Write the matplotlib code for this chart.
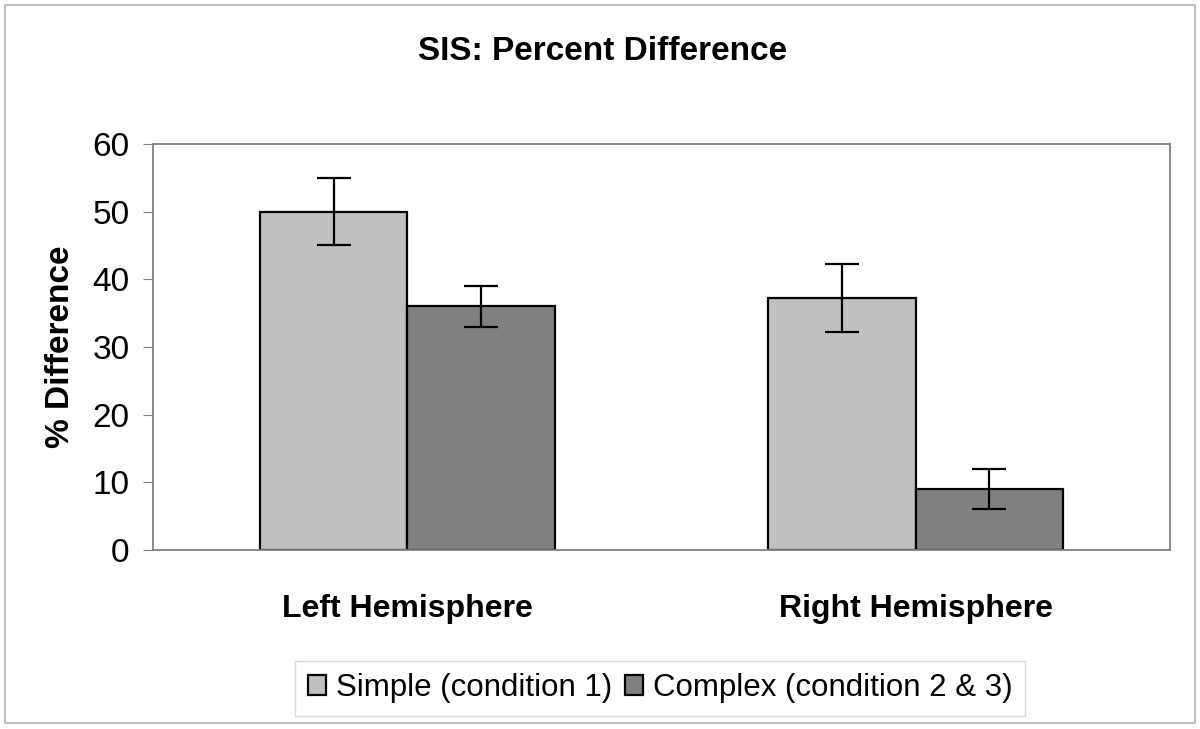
import numpy as np
import matplotlib.pyplot as plt
from matplotlib.patches import Rectangle

plt.rcParams['font.family'] = ['Liberation Sans', 'DejaVu Sans']

# data
categories = ['Left Hemisphere', 'Right Hemisphere']
simple_vals = [50.0, 37.2]
simple_err = [5.0, 5.0]
complex_vals = [36.0, 9.0]
complex_err = [3.0, 3.0]
series_names = ['Simple (condition 1)', 'Complex (condition 2 & 3)']
yticks = [0, 10, 20, 30, 40, 50, 60]

fig = plt.figure(figsize=(12, 7.29), dpi=100)
ax = fig.add_axes([0.1275, 0.2455, 0.8475, 0.557])

x = np.arange(len(categories))
w = 0.29
err_kw = dict(ecolor='black', elinewidth=1.6, capsize=12, capthick=1.6)
ax.bar(x - w / 2, simple_vals, w, yerr=simple_err, color='#c0c0c0',
       edgecolor='black', linewidth=1.6, label=series_names[0], error_kw=err_kw)
ax.bar(x + w / 2, complex_vals, w, yerr=complex_err, color='#808080',
       edgecolor='black', linewidth=1.6, label=series_names[1], error_kw=err_kw)

ax.set_xlim(-0.5, 1.5)
ax.set_ylim(0, 60)
ax.set_yticks(yticks)
ax.tick_params(axis='y', labelsize=24, length=7, color='#808080', pad=10)
ax.tick_params(axis='x', length=0, pad=32)
ax.set_xticks(x)
ax.set_xticklabels(categories, fontsize=23, fontweight='bold')
for s in ax.spines.values():
    s.set_color('#808080')
    s.set_linewidth(1.3)

ax.set_ylabel('% Difference', fontsize=24, fontweight='bold', labelpad=12)
fig.text(0.502, 0.93, 'SIS: Percent Difference', ha='center', va='center',
         fontsize=24, fontweight='bold')

leg = fig.legend(loc='center', bbox_to_anchor=(0.55, 0.056), ncol=2,
                 fontsize=22.5, frameon=True, fancybox=False, edgecolor='#d0d0d0',
                 handlelength=0.6, handleheight=0.6, handletextpad=0.3,
                 columnspacing=0.4, borderpad=0.4, borderaxespad=0)
leg.get_frame().set_linewidth(1.0)

# light gray border around the whole chart
fig.patches.append(Rectangle((0.004, 0.008), 0.992, 0.985, transform=fig.transFigure,
                             fill=False, edgecolor='#c0c0c0', linewidth=1.5))

fig.savefig('out.png', dpi=100)
